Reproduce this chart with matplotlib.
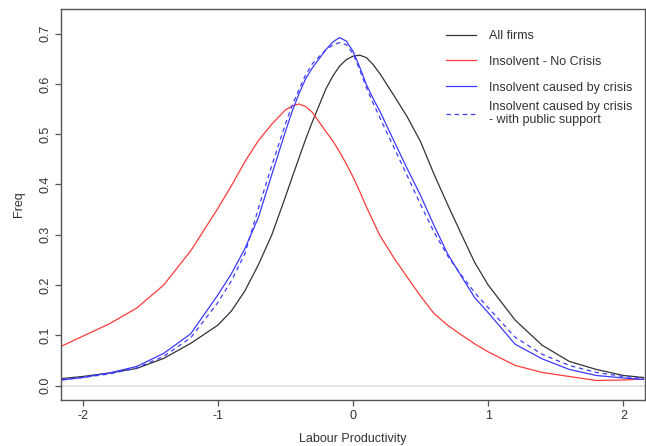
"""Density curves of labour productivity by firm group."""

import matplotlib

matplotlib.use("Agg")
import matplotlib.pyplot as plt

plt.rcParams["font.family"] = ["Liberation Sans", "DejaVu Sans"]
plt.rcParams["axes.unicode_minus"] = False

x_grid = [-2.15, -2.0, -1.8, -1.6, -1.4, -1.2, -1.0, -0.9, -0.8, -0.7, -0.6,
          -0.5, -0.45, -0.4, -0.35, -0.3, -0.2, -0.15, -0.1, -0.05, 0.0,
          0.05, 0.1, 0.15, 0.2, 0.3, 0.4, 0.5, 0.6, 0.7, 0.8, 0.9, 1.0, 1.2,
          1.4, 1.6, 1.8, 2.0, 2.15]

all_firms = [0.014, 0.018, 0.025, 0.034, 0.054, 0.084, 0.120, 0.148, 0.188,
             0.240, 0.300, 0.375, 0.414, 0.452, 0.490, 0.525, 0.590, 0.615,
             0.635, 0.648, 0.655, 0.657, 0.652, 0.638, 0.620, 0.578, 0.535,
             0.485, 0.420, 0.360, 0.302, 0.245, 0.200, 0.130, 0.080, 0.048,
             0.032, 0.020, 0.016]

no_crisis = [0.079, 0.098, 0.123, 0.154, 0.200, 0.268, 0.352, 0.397, 0.445,
             0.487, 0.520, 0.548, 0.556, 0.560, 0.555, 0.543, 0.505, 0.487,
             0.465, 0.441, 0.415, 0.386, 0.355, 0.326, 0.298, 0.255, 0.216,
             0.178, 0.143, 0.120, 0.101, 0.083, 0.067, 0.040, 0.026, 0.018,
             0.010, 0.011, 0.013]

by_crisis = [0.011, 0.016, 0.025, 0.038, 0.064, 0.103, 0.180, 0.222, 0.272,
             0.334, 0.420, 0.505, 0.545, 0.580, 0.610, 0.632, 0.668, 0.683,
             0.692, 0.685, 0.665, 0.633, 0.598, 0.570, 0.545, 0.488, 0.432,
             0.378, 0.318, 0.262, 0.218, 0.175, 0.145, 0.082, 0.053, 0.032,
             0.020, 0.015, 0.012]

public_support = [0.012, 0.016, 0.023, 0.035, 0.058, 0.095, 0.165, 0.208,
                  0.262, 0.352, 0.438, 0.520, 0.557, 0.588, 0.618, 0.640,
                  0.668, 0.677, 0.682, 0.678, 0.660, 0.628, 0.592, 0.561,
                  0.532, 0.475, 0.418, 0.360, 0.305, 0.258, 0.220, 0.185,
                  0.155, 0.096, 0.062, 0.040, 0.026, 0.018, 0.014]

x_ticks = [-2, -1, 0, 1, 2]
y_ticks = [0.0, 0.1, 0.2, 0.3, 0.4, 0.5, 0.6, 0.7]

fig = plt.figure(figsize=(6.46, 4.46), dpi=100)
ax = fig.add_axes([0.0944, 0.1031, 0.904, 0.8767])

ax.axhline(0, color="#dddddd", lw=1.2, zorder=0)
l1, = ax.plot(x_grid, all_firms, color="#333333", lw=0.9, label="All firms")
l2, = ax.plot(x_grid, no_crisis, color="#ff3b3b", lw=0.9,
              label="Insolvent - No Crisis")
l3, = ax.plot(x_grid, by_crisis, color="#3b3bff", lw=0.9,
              label="Insolvent caused by crisis")
l4, = ax.plot(x_grid, public_support, color="#3b3bff", lw=0.9, dashes=(3.5, 3),
              label="Insolvent caused by crisis\n- with public support")

ax.set_xlim(-2.16, 2.16)
ax.set_ylim(-0.0288, 0.7488)
ax.set_xticks(x_ticks)
ax.set_xticklabels([str(t) for t in x_ticks])
ax.set_yticks(y_ticks)
ax.set_yticklabels([f"{t:.1f}" for t in y_ticks], rotation=90, va="center")

for side in ax.spines.values():
    side.set_color("#555555")
    side.set_linewidth(1.0)
ax.tick_params(length=4, width=0.9, color="#555555", labelsize=9,
               labelcolor="#333333", pad=3)
ax.set_xlabel("Labour Productivity", fontsize=9, color="#333333", labelpad=8)
ax.set_ylabel("Freq", fontsize=9, color="#333333", labelpad=10)

leg_opts = dict(loc="upper left", frameon=False, fontsize=9, handlelength=2.4,
                handletextpad=1.1, labelspacing=1.1, borderpad=0,
                labelcolor="#333333")
leg = ax.legend(handles=[l1, l2, l3], bbox_to_anchor=(0.648, 0.962), **leg_opts)
ax.add_artist(leg)
leg2 = ax.legend(handles=[l4], bbox_to_anchor=(0.648, 0.78), **leg_opts)
for t in leg2.get_texts():
    t.set_linespacing(1.1)

fig.savefig("out.png", dpi=100)
